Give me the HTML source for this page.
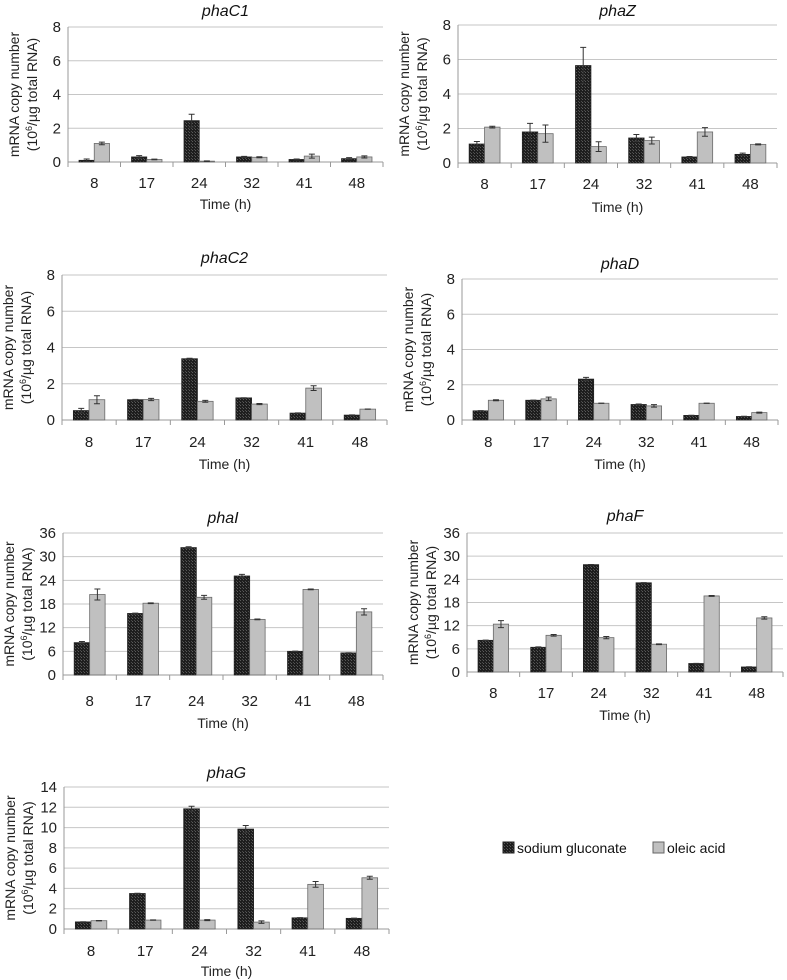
<!DOCTYPE html>
<html><head><meta charset="utf-8"><style>
html,body{margin:0;padding:0;background:#fff;}
svg{display:block;font-family:"Liberation Sans",sans-serif;}
</style></head><body>
<svg id="fig" width="787" height="980" viewBox="0 0 787 980">
<defs>
<pattern id="dots" width="3" height="3" patternUnits="userSpaceOnUse">
<rect width="3" height="3" fill="#1e1e1e"/><rect x="0" y="0" width="1" height="1" fill="#5a5a5a"/><rect x="2" y="2" width="1" height="1" fill="#4a4a4a"/>
</pattern>
</defs>
<g>
<rect x="503" y="842" width="11" height="11" fill="url(#dots)" stroke="#222"/>
<text x="517" y="853" font-size="14" fill="#111">sodium gluconate</text>
<rect x="653" y="842" width="11" height="11" fill="#c0c0c0" stroke="#666"/>
<text x="667" y="853" font-size="14" fill="#111">oleic acid</text>
</g>
</svg>
<script>
const categories = ["8","17","24","32","41","48"];

const phaC1Dark = [0.1,0.3,2.45,0.3,0.15,0.2];
const phaC1Light = [1.1,0.15,0.05,0.28,0.35,0.3];
const phaC1DarkErr = [0.08,0.08,0.38,0.03,0.03,0.06];
const phaC1LightErr = [0.08,0.02,0.02,0.03,0.12,0.06];

const phaZDark = [1.1,1.8,5.65,1.45,0.35,0.5];
const phaZLight = [2.08,1.7,0.95,1.3,1.8,1.08];
const phaZDarkErr = [0.15,0.5,1.05,0.2,0.03,0.07];
const phaZLightErr = [0.05,0.5,0.28,0.2,0.25,0.03];

const phaC2Dark = [0.52,1.12,3.38,1.22,0.38,0.27];
const phaC2Light = [1.12,1.13,1.03,0.88,1.76,0.6];
const phaC2DarkErr = [0.12,0.02,0.03,0.01,0.01,0.01];
const phaC2LightErr = [0.22,0.06,0.05,0.03,0.13,0.01];

const phaDDark = [0.52,1.12,2.32,0.88,0.26,0.2];
const phaDLight = [1.12,1.2,0.95,0.8,0.95,0.42];
const phaDDarkErr = [0.01,0.01,0.1,0.03,0.01,0.01];
const phaDLightErr = [0.03,0.1,0.01,0.07,0.01,0.03];

const phaIDark = [8.2,15.6,32.3,25.1,6,5.6];
const phaILight = [20.4,18.2,19.7,14.1,21.7,16];
const phaIDarkErr = [0.3,0.1,0.2,0.4,0.05,0.05];
const phaILightErr = [1.4,0.1,0.5,0.1,0.1,0.8];

const phaFDark = [8.2,6.4,27.8,23.1,2.2,1.3];
const phaFLight = [12.4,9.5,8.9,7.2,19.7,14];
const phaFDarkErr = [0.05,0.1,0.05,0.05,0.05,0.05];
const phaFLightErr = [0.9,0.2,0.3,0.1,0.1,0.3];

const phaGDark = [0.7,3.5,11.85,9.85,1.1,1.05];
const phaGLight = [0.82,0.88,0.88,0.68,4.4,5.05];
const phaGDarkErr = [0.02,0.02,0.25,0.35,0.02,0.02];
const phaGLightErr = [0.02,0.02,0.05,0.12,0.28,0.15];

const ticks8 = [0,2,4,6,8];
const ticks36 = [0,6,12,18,24,30,36];
const ticks14 = [0,2,4,6,8,10,12,14];

const charts = [
 {name:"phaC1",dark:phaC1Dark,light:phaC1Light,de:phaC1DarkErr,le:phaC1LightErr,ticks:ticks8,L:68,R:383,T:27,B:162,ty:16,cy:188,timey:209},
 {name:"phaZ",dark:phaZDark,light:phaZLight,de:phaZDarkErr,le:phaZLightErr,ticks:ticks8,L:458,R:777,T:25,B:163,ty:16,cy:189,timey:212},
 {name:"phaC2",dark:phaC2Dark,light:phaC2Light,de:phaC2DarkErr,le:phaC2LightErr,ticks:ticks8,L:62,R:387,T:275,B:420,ty:263,cy:447,timey:469},
 {name:"phaD",dark:phaDDark,light:phaDLight,de:phaDDarkErr,le:phaDLightErr,ticks:ticks8,L:462,R:778,T:279,B:420,ty:269,cy:447,timey:469},
 {name:"phaI",dark:phaIDark,light:phaILight,de:phaIDarkErr,le:phaILightErr,ticks:ticks36,L:63,R:383,T:533,B:675,ty:523,cy:706,timey:728},
 {name:"phaF",dark:phaFDark,light:phaFLight,de:phaFDarkErr,le:phaFLightErr,ticks:ticks36,L:467,R:783,T:533,B:672,ty:521,cy:698,timey:720},
 {name:"phaG",dark:phaGDark,light:phaGLight,de:phaGDarkErr,le:phaGLightErr,ticks:ticks14,L:64,R:389,T:787,B:929,ty:778,cy:956,timey:976}
];

const svg = document.getElementById('fig');
const NS = "http://www.w3.org/2000/svg";
function mk(tag, attrs, parent){
  const e = document.createElementNS(NS, tag);
  for (const k in attrs) e.setAttribute(k, attrs[k]);
  parent.appendChild(e);
  return e;
}

charts.forEach(c => {
  const g = mk('g', {}, svg);
  
  
  const max = c.ticks[c.ticks.length-1];
  const y = v => c.B - v/max*(c.B-c.T);
  const W = (c.R-c.L)/categories.length;
  const xc = i => c.L + W*(i+0.5);
  const bw = W*0.29;

  c.ticks.forEach(t => {
    if (t>0) {
      const gl = mk('line', {x1:c.L,x2:c.R,y1:y(t),y2:y(t),stroke:'#c6c6c6','stroke-width':1}, g);
      
      
    }
    const tl = mk('text', {x:c.L-7,y:y(t)+5,'font-size':15,'text-anchor':'end',fill:'#222'}, g);
    tl.textContent = t;
    
    
  });
  const ya = mk('line', {x1:c.L,x2:c.L,y1:c.T,y2:c.B,stroke:'#999'}, g);
  
  
  const xa = mk('line', {x1:c.L,x2:c.R,y1:c.B,y2:c.B,stroke:'#999'}, g);
  
  
  for (let i=0;i<=categories.length;i++){
    const tk = mk('line', {x1:c.L+W*i,x2:c.L+W*i,y1:c.B,y2:c.B+5,stroke:'#999'}, g);
    
    
  }
  categories.forEach((cat,i) => {
    const cl = mk('text', {x:xc(i),y:c.cy,'font-size':15,'text-anchor':'middle',fill:'#222'}, g);
    cl.textContent = cat;
    
    
    const d = c.dark[i], l = c.light[i];
    const b1 = mk('rect', {x:xc(i)-bw,y:y(d),width:bw,height:c.B-y(d),fill:'url(#dots)',stroke:'#222','stroke-width':0.8}, g);
    
    
    const b2 = mk('rect', {x:xc(i),y:y(l),width:bw,height:c.B-y(l),fill:'#c0c0c0',stroke:'#6a6a6a','stroke-width':0.8}, g);
    
    
    [[xc(i)-bw/2,d,c.de[i]],[xc(i)+bw/2,l,c.le[i]]].forEach(([x,v,e]) => {
      const eb = mk('path', {d:`M${x},${y(v+e)}V${y(v-e)}M${x-3},${y(v+e)}H${x+3}M${x-3},${y(v-e)}H${x+3}`,stroke:'#333','stroke-width':1,fill:'none'}, g);
      
      
    });
  });
  const title = mk('text', {x:(c.L+c.R)/2,y:c.ty,'font-size':16,'font-style':'italic','text-anchor':'middle',fill:'#111'}, g);
  title.textContent = c.name;
  
  
  const tt = mk('text', {x:(c.L+c.R)/2,y:c.timey,'font-size':14,'text-anchor':'middle',fill:'#222'}, g);
  tt.textContent = 'Time (h)';
  
  
  const my = (c.T+c.B)/2;
  const ax = c.L - 44;
  const yt = mk('text', {x:0,y:0,'font-size':14,'text-anchor':'middle',fill:'#222',transform:`translate(${ax},${my}) rotate(-90)`}, g);
  
  
  const t1 = mk('tspan', {x:0,dy:-5}, yt);
  t1.textContent = 'mRNA copy number';
  const t2 = mk('tspan', {x:0,dy:18}, yt);
  t2.textContent = '(10';
  const t3 = mk('tspan', {'font-size':9,dy:-5}, yt);
  t3.textContent = '6';
  const t4 = mk('tspan', {dy:5}, yt);
  t4.textContent = '/µg total RNA)';
});
</script>
</body></html>
